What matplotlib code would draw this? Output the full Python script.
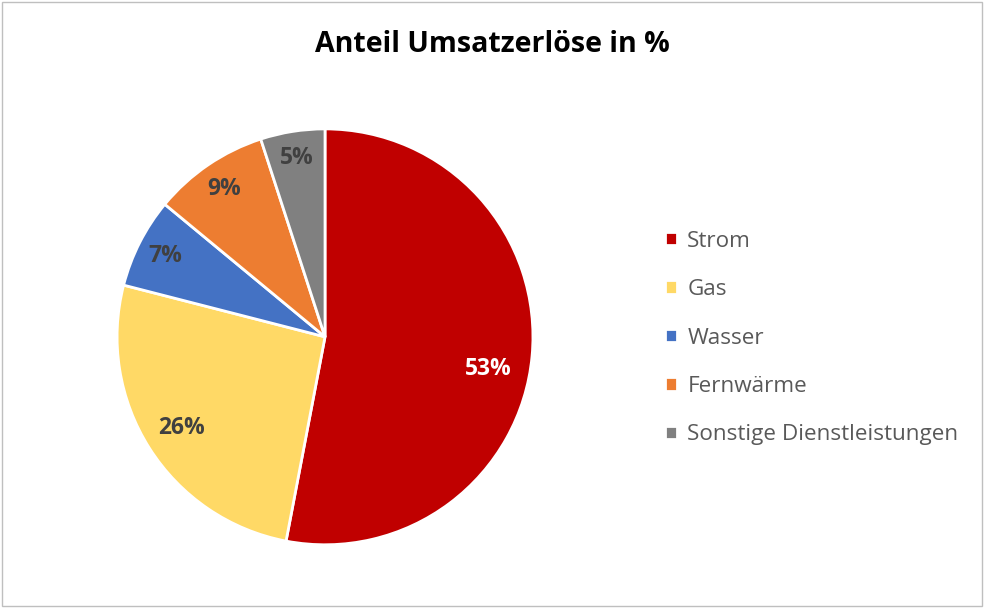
import matplotlib.pyplot as plt
import numpy as np

plt.rcParams['font.family'] = ['Open Sans', 'DejaVu Sans']

labels = ["Strom", "Gas", "Wasser", "Fernwärme", "Sonstige Dienstleistungen"]
anteile = [53, 26, 7, 9, 5]
farben = ["#C00000", "#FFD966", "#4472C4", "#ED7D31", "#808080"]
textfarben = ["white", "#404040", "#404040", "#404040", "#404040"]
abstand = [0.80, 0.82, 0.86, 0.86, 0.87]

fig = plt.figure(figsize=(9.84, 6.08), dpi=100)
ax = fig.add_axes([0.1189, 0.104, 0.4228, 0.684])

wedges, texts, autotexts = ax.pie(anteile, colors=farben, startangle=90,
                                  counterclock=False,
                                  autopct=lambda p: "%d%%" % round(p),
                                  pctdistance=0.84,
                                  wedgeprops=dict(edgecolor="white", linewidth=2))
ax.set_xlim(-1, 1)
ax.set_ylim(-1, 1)
ax.set_aspect("equal")

# Beschriftungen wie im Original etwas verschieben
for w, t, r, c in zip(wedges, autotexts, abstand, textfarben):
    ang = np.deg2rad((w.theta1 + w.theta2) / 2)
    if t.get_text() == "53%":
        ang = np.deg2rad(-11)
    t.set_position((r * np.cos(ang), r * np.sin(ang)))
    t.set_color(c)
    t.set_fontsize(16.5)
    t.set_fontweight("bold")

fig.text(0.5, 0.927, "Anteil Umsatzerlöse in %", ha="center", va="center",
         fontsize=20.5, fontweight="bold", color="black")

leg = fig.legend(wedges, labels, loc="center left", bbox_to_anchor=(0.655, 0.444),
                 frameon=False, fontsize=16.2, labelcolor="#595959",
                 handlelength=0.55, handleheight=0.55, handletextpad=0.45,
                 labelspacing=1.22)

# Rahmen
fig.patches.append(plt.Rectangle((0.002, 0.003), 0.996, 0.994, transform=fig.transFigure,
                                 fill=False, edgecolor="#BFBFBF", linewidth=1))

fig.savefig("out.png", dpi=100)
